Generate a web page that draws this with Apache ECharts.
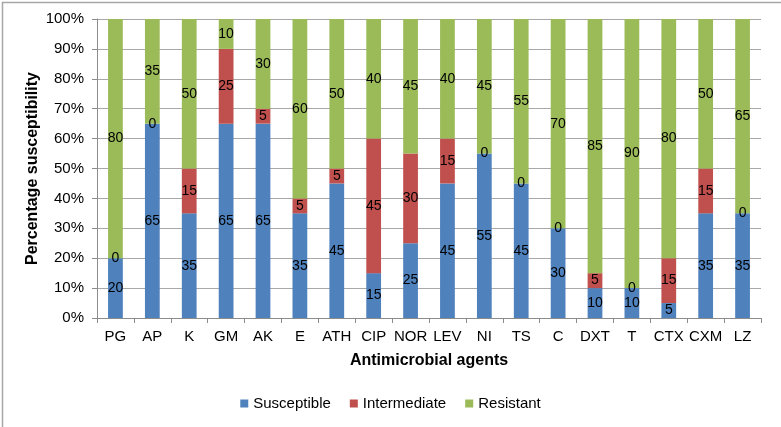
<!DOCTYPE html>
<html><head><meta charset="utf-8">
<script src="https://cdn.jsdelivr.net/npm/echarts@6/dist/echarts.min.js"></script>
<style>html,body{margin:0;padding:0;background:#fff}#c{width:781px;height:427px}</style>
</head><body><div id="c"></div>
<script>
const categories = ['PG','AP','K','GM','AK','E','ATH','CIP','NOR','LEV','NI','TS','C','DXT','T','CTX','CXM','LZ'];
const susceptible = [20,65,35,65,65,35,45,15,25,45,55,45,30,10,10,5,35,35];
const intermediate = [0,0,15,25,5,5,5,45,30,15,0,0,0,5,0,15,15,0];
const resistant = [80,35,50,10,30,60,50,40,45,40,45,55,70,85,90,80,50,65];
const yTicks = [0,10,20,30,40,50,60,70,80,90,100];

const font = 'Liberation Sans, Arial, sans-serif';
const chart = echarts.init(document.getElementById('c'), null, {renderer:'canvas'});
const lbl = {show:true, position:'inside', color:'#000', fontSize:14, fontFamily:font};
function s(name, data, color){
  return {name, type:'bar', stack:'t', data, barWidth:'40%', itemStyle:{color}, label:lbl};
}
chart.setOption({
  animation:false,
  textStyle:{fontFamily:font},
  grid:{left:97, top:19, right:20, bottom:109, containLabel:false},
  graphic:[{type:'rect', left:0, top:0, shape:{width:780, height:426}, style:{fill:'none', stroke:'#a6a6a6', lineWidth:1.5}, silent:true}],
  legend:{bottom:11, left:'center', icon:'rect', itemWidth:8, itemHeight:8, itemGap:19,
    textStyle:{fontSize:15, color:'#000', fontFamily:font}, data:['Susceptible','Intermediate','Resistant']},
  xAxis:{type:'category', data:categories,
    axisLine:{lineStyle:{color:'#8c8c8c'}}, axisTick:{show:true, lineStyle:{color:'#8c8c8c'}, length:5},
    axisLabel:{color:'#000', fontSize:15, margin:11, interval:0},
    name:'Antimicrobial agents', nameLocation:'middle', nameGap:35,
    nameTextStyle:{fontWeight:'bold', fontSize:16, color:'#000'}},
  yAxis:{type:'value', min:yTicks[0], max:yTicks[yTicks.length-1], interval:10,
    axisLine:{show:true, lineStyle:{color:'#8c8c8c'}}, axisTick:{show:true, length:5, lineStyle:{color:'#8c8c8c'}},
    splitLine:{lineStyle:{color:'#a8a8a8'}},
    axisLabel:{color:'#000', fontSize:15, margin:13, formatter:'{value}%'},
    name:'Percentage susceptibility', nameLocation:'middle', nameGap:56, nameMoveOverlap:false,
    nameTextStyle:{fontWeight:'bold', fontSize:16, color:'#000'}},
  series:[s('Susceptible', susceptible, '#4F81BD'), s('Intermediate', intermediate, '#C0504D'), s('Resistant', resistant, '#9BBB59')]
});
</script></body></html>
